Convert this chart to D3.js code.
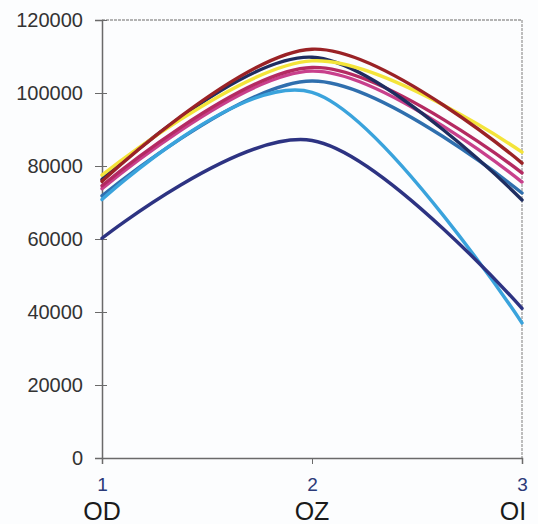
<!DOCTYPE html>
<html>
<head>
<meta charset="utf-8">
<script src="https://cdn.jsdelivr.net/npm/d3@7"></script>
<style>
  body { margin: 0; background: #fcfdfe; }
  svg { font-family: "Liberation Sans", Arial, sans-serif; }
</style>
</head>
<body>
<svg width="538" height="524"></svg>
<script>
var xValues = [1, 2, 3];
var xNames = ["OD", "OZ", "OI"];
var yTicks = [0, 20000, 40000, 60000, 80000, 100000, 120000];

// one array per line, values at 1, 2, 3
var yellow    = [77500, 108800, 83800];
var darkRed   = [75800, 112000, 80800];
var navy      = [76300, 109800, 70700];
var crimson   = [74600, 107000, 78100];
var pink      = [73800, 106000, 75600];
var steelBlue = [71800, 103300, 72600];
var lightBlue = [70800, 100200, 37000];
var indigo    = [60200, 87000, 41000];

var series = [
  {name: "steelBlue", values: steelBlue, color: "#2f6fae"},
  {name: "lightBlue", values: lightBlue, color: "#3aa3dc"},
  {name: "indigo", values: indigo, color: "#2d3382"},
  {name: "pink", values: pink, color: "#c8408c"},
  {name: "crimson", values: crimson, color: "#b42a62"},
  {name: "navy", values: navy, color: "#1f2d60"},
  {name: "yellow", values: yellow, color: "#f4e43a"},
  {name: "darkRed", values: darkRed, color: "#9a2226"}
];

var svg = d3.select("svg");
var plotLeft = 102, plotRight = 522, plotTop = 20, plotBottom = 458;

var xScale = d3.scaleLinear().domain([1, 3]).range([plotLeft, plotRight]);
var yScale = d3.scaleLinear().domain([0, 120000]).range([plotBottom, plotTop]);

// frame (top and right)
svg.append("line")
  .attr("x1", plotLeft).attr("x2", plotRight)
  .attr("y1", plotTop).attr("y2", plotTop)
  .attr("stroke", "#9a9a9a").attr("stroke-width", 1.5)
  .attr("stroke-dasharray", "3,1");
svg.append("line")
  .attr("x1", plotRight).attr("x2", plotRight)
  .attr("y1", plotTop).attr("y2", plotBottom)
  .attr("stroke", "#a8a8a8").attr("stroke-width", 1.5)
  .attr("stroke-dasharray", "3,1");

// y axis
var yAxis = svg.append("g")
  .attr("transform", "translate(" + plotLeft + ",0)")
  .call(d3.axisLeft(yScale).tickValues(yTicks).tickFormat(d3.format("d")).tickSize(7).tickPadding(12));
yAxis.select(".domain").attr("stroke", "#6a6a6a").attr("stroke-width", 1.5);
yAxis.selectAll(".tick line").attr("stroke", "#6a6a6a").attr("x2", 5).attr("x1", -7);
yAxis.selectAll(".tick text")
  .attr("x", -19)
  .attr("fill", "#333")
  .style("font-size", "20px");

// x axis
var xAxis = svg.append("g")
  .attr("transform", "translate(0," + plotBottom + ")")
  .call(d3.axisBottom(xScale).tickValues(xValues).tickFormat(d3.format("d")).tickSize(6).tickPadding(14));
xAxis.select(".domain").attr("stroke", "#6a6a6a").attr("stroke-width", 1.5);
xAxis.selectAll(".tick line").attr("stroke", "#6a6a6a");
xAxis.selectAll(".tick text")
  .attr("fill", "#2b3a78")
  .style("font-size", "19px");

// category names under the numbers
svg.append("g").selectAll("text")
  .data(xValues)
  .enter()
  .append("text")
  .attr("x", function(d, i) { return xScale(d) + (i === 2 ? -9 : 0); })
  .attr("y", 520)
  .attr("text-anchor", "middle")
  .attr("fill", "#1a1a1a")
  .style("font-size", "25px")
  .text(function(d, i) { return xNames[i]; });

var line = d3.line()
  .x(function(d, i) { return xScale(xValues[i]); })
  .y(function(d) { return yScale(d); })
  .curve(d3.curveCardinal.tension(0));

svg.append("g").selectAll("path")
  .data(series)
  .enter()
  .append("path")
  .attr("fill", "none")
  .attr("stroke", function(d) { return d.color; })
  .attr("stroke-width", 3.4)
  .attr("stroke-linecap", "round")
  .attr("d", function(d) { return line(d.values); });
</script>
</body>
</html>
